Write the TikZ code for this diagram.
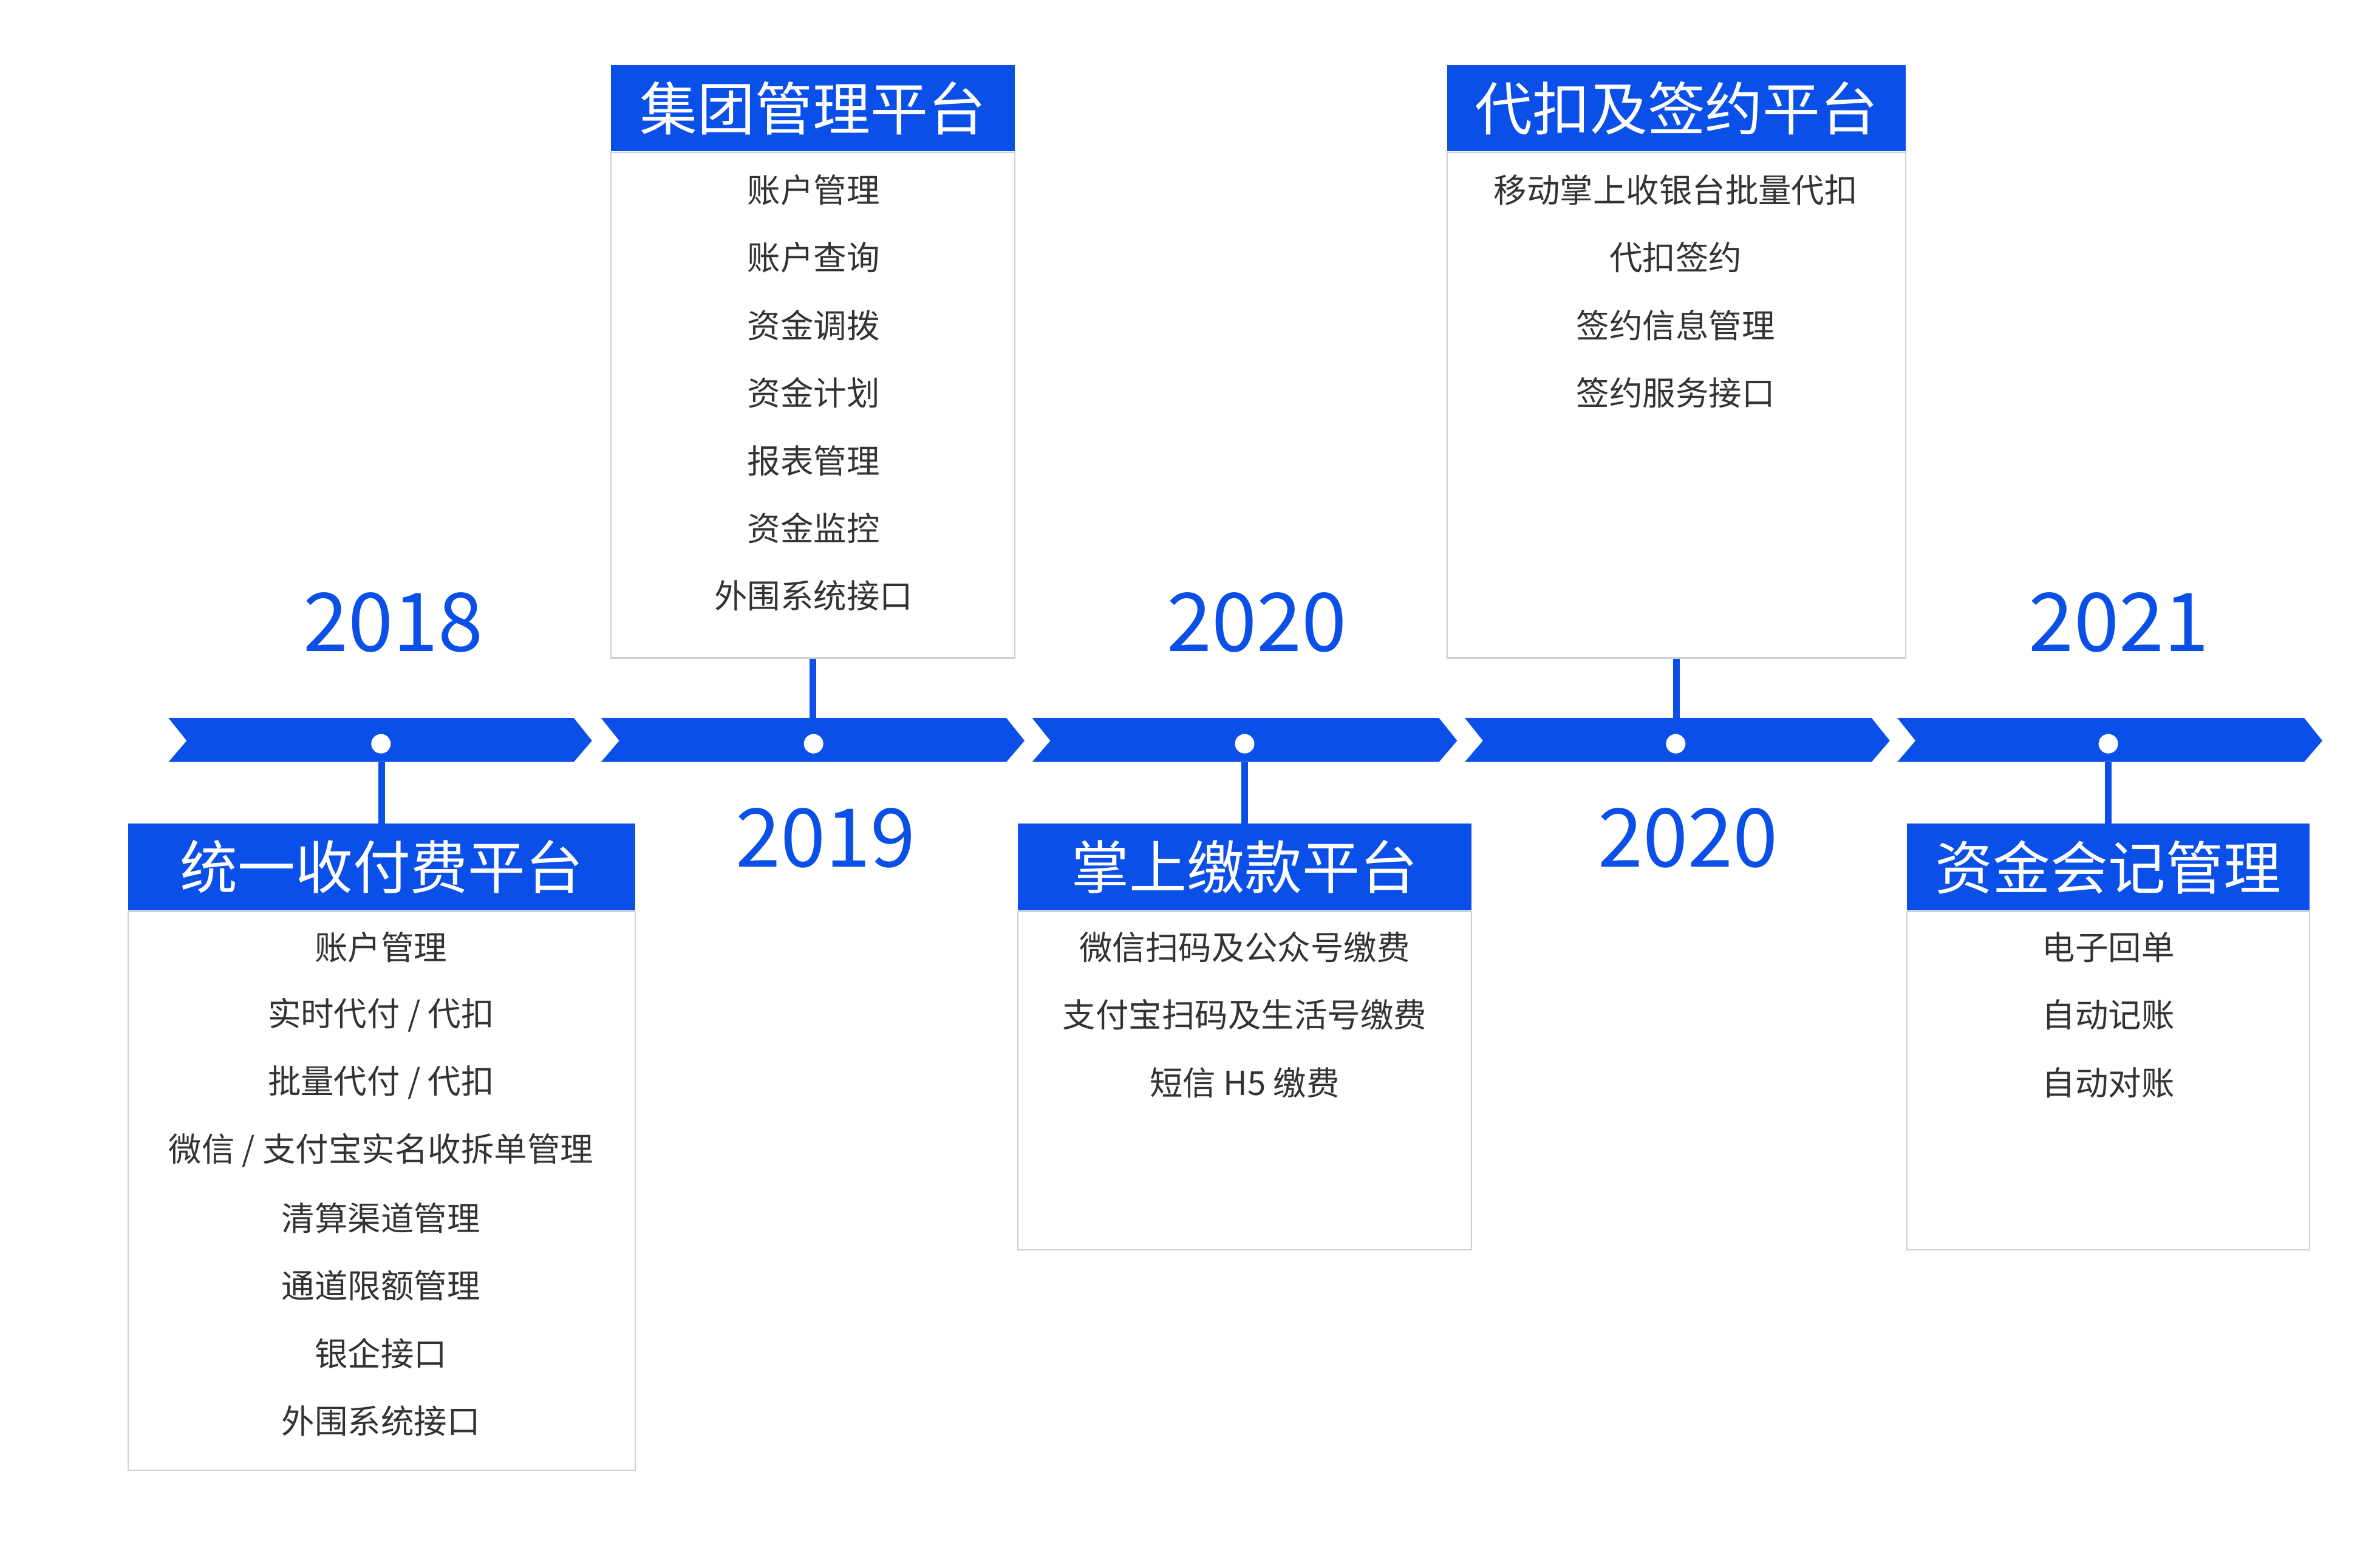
\documentclass[tikz,border=0pt]{standalone}
\usepackage{fontspec}
\setmainfont{Noto Sans CJK SC}
\usetikzlibrary{positioning}
\definecolor{tlblue}{HTML}{0A4FE8}
\definecolor{boxgray}{HTML}{CFCFCF}
\definecolor{itemgray}{HTML}{333333}

\begin{document}
\begin{tikzpicture}[x={0.025cm}, y={-0.025cm},
    header/.style={fill=tlblue, text=white, minimum height=1.425cm, inner sep=0pt,
      font=\fontsize{27}{30}\selectfont},
    body/.style={draw=boxgray, line width=0.6pt, fill=white, inner sep=0pt},
    item/.style={text=itemgray, font=\fontsize{15.5}{18}\selectfont},
    year/.style={text=tlblue, font=\fontsize{38}{42}\selectfont},
    stem/.style={draw=tlblue, line width=1.1mm},
    dot/.style={circle, fill=white, minimum size=0.32cm, inner sep=0pt}]
  \useasboundingbox (0,0) rectangle (1568,1029);

  % timeline chevrons
  \foreach \xa/\xb in {111/390, 396/675, 680/960, 965/1245, 1250/1530}
    \fill[tlblue] (\xa,473) -- (\xb-12,473) -- (\xb,488) -- (\xb-12,502)
      -- (\xa,502) -- (\xa+12,488) -- cycle;

  % years
  \node[year] (y1) at (259,410) {2018};
  \node[year] (y2) at (544,552) {2019};
  \node[year] (y3) at (828,410) {2020};
  \node[year] (y4) at (1112,552) {2020};
  \node[year] (y5) at (1396,410) {2021};

  % boxes below
  \node[body, minimum width=8.35cm, minimum height=9.2cm, anchor=north west] (b1) at (84,600) {};
  \node[header, minimum width=8.35cm, anchor=south] (h1) at (b1.north) {统一收付费平台};
  \node[body, minimum width=7.475cm, minimum height=5.575cm, anchor=north west] (b3) at (670,600) {};
  \node[header, minimum width=7.475cm, anchor=south] (h3) at (b3.north) {掌上缴款平台};
  \node[body, minimum width=6.625cm, minimum height=5.575cm, anchor=north west] (b5) at (1256,600) {};
  \node[header, minimum width=6.625cm, anchor=south] (h5) at (b5.north) {资金会记管理};

  % boxes above
  \node[body, minimum width=6.65cm, minimum height=8.325cm, anchor=north west] (b2) at (402,100) {};
  \node[header, minimum width=6.65cm, anchor=south] (h2) at (b2.north) {集团管理平台};
  \node[body, minimum width=7.55cm, minimum height=8.325cm, anchor=north west] (b4) at (953,100) {};
  \node[header, minimum width=7.55cm, anchor=south] (h4) at (b4.north) {代扣及签约平台};

  % stems
  \draw[stem] (h1.north |- 0,502) -- (h1.north);
  \draw[stem] (b2.south) -- (b2.south |- 0,473);
  \draw[stem] (h3.north |- 0,502) -- (h3.north);
  \draw[stem] (b4.south) -- (b4.south |- 0,473);
  \draw[stem] (h5.north |- 0,502) -- (h5.north);

  % dots
  \node[dot] (d1) at (251,490) {};
  \node[dot] (d2) at (536,490) {};
  \node[dot] (d3) at (820,490) {};
  \node[dot] (d4) at (1104,490) {};
  \node[dot] (d5) at (1389,490) {};

  % items
  \foreach \t [count=\i] in {账户管理, 实时代付 / 代扣, 批量代付 / 代扣, 微信 / 支付宝实名收拆单管理,
      清算渠道管理, 通道限额管理, 银企接口, 外围系统接口}
    \node[item] (i1-\i) at (251,{624+44.6*(\i-1)}) {\t};
  \foreach \t [count=\i] in {账户管理, 账户查询, 资金调拨, 资金计划, 报表管理, 资金监控, 外围系统接口}
    \node[item] (i2-\i) at (536,{125+44.6*(\i-1)}) {\t};
  \foreach \t [count=\i] in {微信扫码及公众号缴费, 支付宝扫码及生活号缴费, 短信 H5 缴费}
    \node[item] (i3-\i) at (820,{624+44.6*(\i-1)}) {\t};
  \foreach \t [count=\i] in {移动掌上收银台批量代扣, 代扣签约, 签约信息管理, 签约服务接口}
    \node[item] (i4-\i) at (1104,{125+44.6*(\i-1)}) {\t};
  \foreach \t [count=\i] in {电子回单, 自动记账, 自动对账}
    \node[item] (i5-\i) at (1389,{624+44.6*(\i-1)}) {\t};
\end{tikzpicture}
\end{document}
